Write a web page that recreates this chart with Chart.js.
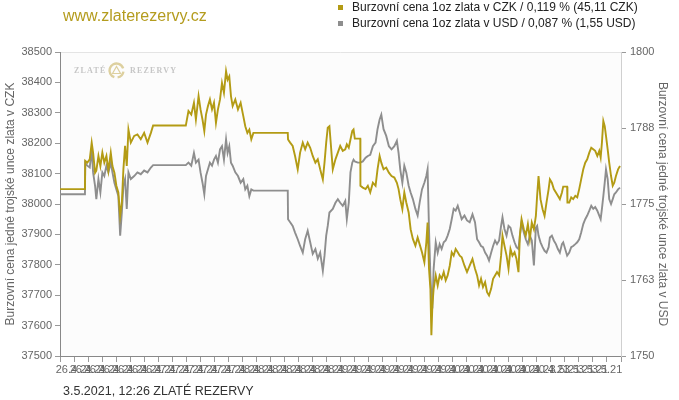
<!DOCTYPE html>
<html><head><meta charset="utf-8">
<script src="https://cdn.jsdelivr.net/npm/chart.js@4.4.1/dist/chart.umd.min.js"></script>
<style>html,body{margin:0;padding:0;background:#fff}</style>
</head><body>
<canvas id="c" width="679" height="400"></canvas>
<script>
// time position in x-axis tick units (one tick = one label slot)
const timeIdx = [0,1.78,1.80,1.95,2.12,2.26,2.36,2.50,2.59,2.74,2.88,3.02,3.16,3.31,3.45,3.62,3.74,3.88,4.02,4.16,4.29,4.41,4.52,4.64,4.76,4.88,5.05,5.29,5.52,5.76,6.00,6.24,6.48,6.64,8.97,
9.16,9.36,9.55,9.69,9.88,10.02,10.16,10.29,10.41,10.55,10.69,10.84,10.98,11.12,11.26,11.41,11.55,11.69,11.84,11.95,12.07,12.19,12.31,12.50,12.69,12.88,13.07,13.21,13.36,13.50,13.64,13.79,16.24,
16.26,16.41,16.59,16.76,16.95,17.12,17.31,17.48,17.66,17.84,18.02,18.21,18.38,18.55,18.74,18.86,18.98,19.09,19.21,19.45,19.64,19.81,19.98,20.16,20.34,20.45,20.59,20.71,20.84,20.93,21.02,21.24,21.41,
21.42,21.59,21.79,21.95,22.12,22.31,22.50,22.64,22.79,22.91,23.07,23.26,23.45,23.64,23.84,24.02,24.14,24.26,24.41,24.55,24.69,24.86,25.00,25.16,25.34,25.50,25.64,25.81,25.98,26.12,26.21,26.31,26.41,26.48,26.55,26.64,26.79,26.93,
27.07,27.21,27.36,27.50,27.64,27.79,27.93,28.07,28.21,28.36,28.50,28.64,28.84,29.02,29.21,29.41,29.59,29.74,29.88,30.02,30.16,30.31,30.45,30.59,30.74,30.88,31.02,31.16,31.31,31.45,31.55,31.69,31.84,31.98,
32.12,32.26,32.41,32.55,32.69,32.79,32.91,33.07,33.21,33.36,33.50,33.64,33.79,33.93,34.02,34.12,34.26,34.41,34.55,34.69,34.84,34.93,35.07,35.21,35.36,35.50,35.64,35.79,35.88,36.16,
36.18,36.31,36.45,36.59,36.74,36.88,37.02,37.16,37.31,37.45,37.59,37.74,37.88,38.02,38.16,38.31,38.45,38.55,38.64,38.74,38.84,38.93,39.05,39.16,39.29,39.41,39.52,39.64,39.79,39.93];

const czkPrice = [38049,38049,38142,38136,38147,38202,38169,38103,38110,38158,38125,38169,38136,38158,38110,38169,38125,38103,38060,38038,37961,38005,38114,38191,38125,38245,38202,38224,38229,38213,38234,38202,38234,38258,38258,
38306,38294,38333,38278,38355,38311,38278,38240,38294,38322,38344,38311,38333,38267,38311,38344,38398,38366,38437,38409,38420,38355,38322,38344,38311,38333,38289,38256,38234,38245,38213,38234,38234,
38212,38202,38191,38158,38114,38169,38202,38180,38202,38185,38158,38136,38147,38114,38081,38136,38202,38251,38256,38114,38147,38169,38191,38175,38180,38196,38185,38212,38240,38245,38215,38215,38215,
38060,38054,38049,38060,38038,38070,38060,38114,38158,38136,38114,38120,38103,38092,38087,38070,38049,38016,37983,38038,38005,37972,37917,37885,37863,37890,37868,37841,37808,37874,37939,37787,37721,37568,37666,37721,37765,37732,
37765,37754,37776,37749,37765,37797,37841,37830,37852,37841,37830,37825,37797,37776,37797,37819,37787,37765,37732,37754,37727,37743,37710,37699,37721,37754,37765,37776,37765,37830,37896,37863,37830,37787,
37852,37830,37841,37819,37776,37896,37950,37917,37896,37934,37885,37939,37917,37961,38027,38092,38016,37983,37961,38005,38049,38081,38070,38049,38038,38027,38016,38038,38057,38057,
38005,38005,38022,38016,38027,38022,38049,38081,38114,38136,38147,38169,38185,38180,38175,38158,38175,38153,38202,38273,38256,38224,38180,38136,38092,38060,38070,38092,38114,38125];

const usdPrice = [1776.6,1776.6,1781.8,1781.3,1781.0,1784.0,1780.2,1778.0,1775.8,1779.1,1776.9,1780.2,1779.6,1781.3,1780.2,1781.8,1780.2,1778.5,1777.4,1776.3,1769.8,1773.6,1778.0,1779.1,1774.2,1780.2,1779.1,1779.6,1780.2,1779.9,1780.5,1780.2,1781.0,1781.4,1781.4,
1781.8,1781.3,1783.4,1781.8,1782.3,1780.2,1778.5,1776.6,1779.6,1780.7,1781.8,1781.3,1782.3,1782.9,1781.8,1784.0,1784.5,1782.3,1785.6,1783.4,1784.5,1781.8,1781.3,1780.2,1779.6,1778.5,1779.1,1777.4,1778.0,1776.3,1777.4,1777.2,1777.2,
1772.5,1772.0,1771.4,1770.3,1769.2,1768.1,1767.0,1769.2,1770.6,1768.7,1766.8,1767.6,1766.0,1767.0,1764.0,1766.5,1769.8,1771.4,1773.6,1774.2,1775.2,1775.8,1775.2,1774.7,1775.5,1772.5,1775.2,1780.2,1781.8,1782.3,1782.0,1781.8,1781.8,
1781.8,1782.0,1782.6,1782.9,1783.1,1784.5,1785.1,1787.3,1788.9,1789.7,1787.3,1786.2,1784.5,1784.0,1784.5,1785.4,1783.4,1780.7,1778.5,1781.3,1780.2,1778.0,1776.9,1775.8,1774.2,1773.1,1775.2,1777.4,1778.5,1779.6,1780.7,1770.9,1763.2,1759.9,1757.8,1764.3,1768.7,1767.0,
1768.4,1767.6,1768.7,1769.0,1769.8,1770.9,1772.5,1774.2,1773.9,1774.7,1773.6,1772.5,1773.1,1772.3,1772.0,1773.3,1772.0,1769.2,1768.7,1768.1,1767.9,1767.0,1766.5,1765.7,1767.0,1768.1,1769.0,1768.4,1769.0,1771.4,1772.8,1770.9,1769.8,1771.4,
1771.1,1769.8,1768.7,1767.9,1767.6,1769.8,1772.0,1770.3,1769.2,1768.4,1769.8,1769.0,1764.9,1771.1,1771.4,1769.8,1768.7,1767.9,1767.3,1767.0,1767.9,1769.5,1769.8,1769.0,1768.4,1767.6,1767.0,1768.4,1768.7,1766.5,
1766.5,1767.0,1767.9,1768.1,1768.4,1768.7,1769.2,1770.3,1771.7,1772.5,1773.1,1773.9,1774.7,1774.2,1774.5,1773.9,1773.1,1772.5,1774.2,1776.3,1778.5,1780.7,1779.1,1775.8,1775.0,1775.8,1776.6,1776.9,1777.4,1777.7];

const xTickLabels = ['',
 '26.4.21','26.4.21','26.4.21','26.4.21','26.4.21','26.4.21','26.4.21',
 '27.4.21','27.4.21','27.4.21','27.4.21','27.4.21','27.4.21',
 '28.4.21','28.4.21','28.4.21','28.4.21','28.4.21','28.4.21','28.4.21',
 '29.4.21','29.4.21','29.4.21','29.4.21','29.4.21','29.4.21','29.4.21','29.4.21',
 '30.4.21','30.4.21','30.4.21','30.4.21','30.4.21','30.4.21','30.4.21',
 '3.5.21','3.5.21','3.5.21','3.5.21',
 ''];

const seriesNames = ['Burzovní cena 1oz zlata v CZK / 0,119 % (45,11 CZK)',
                     'Burzovní cena 1oz zlata v USD / 0,087 % (1,55 USD)'];
const axisTitleCZK = 'Burzovní cena jedné trojské unce zlata v CZK';
const axisTitleUSD = 'Burzovní cena jedné trojské unce zlata v USD';
const siteTitle = 'www.zlaterezervy.cz';
const footerText = '3.5.2021, 12:26 ZLATÉ REZERVY';

const GOLD = '#b39b14';
const GRAY = '#8e8e8e';
const FONT = '"Liberation Sans", Arial, sans-serif';

const decor = {
  id: 'decor',
  beforeDraw(chart) {
    const {ctx, chartArea: a} = chart;
    ctx.save();
    ctx.fillStyle = '#fcfcfc';
    ctx.fillRect(a.left, a.top, a.right - a.left, a.bottom - a.top);
    ctx.strokeStyle = '#e4e4e4';
    ctx.lineWidth = 1;
    ctx.beginPath();
    ctx.moveTo(a.left, a.top + 0.5); ctx.lineTo(a.right, a.top + 0.5);
    ctx.stroke();
    ctx.restore();
  },
  beforeDatasetsDraw(chart) {
    const {ctx, chartArea: a} = chart;
    ctx.save();
    ctx.fillStyle = '#c6c6c6';
    ctx.font = 'bold 8px "Liberation Serif", "DejaVu Serif", serif';
    ctx.textBaseline = 'middle';
    ctx.textAlign = 'left';
    if ('letterSpacing' in ctx) ctx.letterSpacing = '1.2px';
    ctx.fillText('ZLATÉ', a.left + 14, a.top + 19);
    ctx.fillText('REZERVY', a.left + 70, a.top + 19);
    // logo
    const cx = a.left + 56.5, cy = a.top + 18.5;
    ctx.strokeStyle = '#ddd09f';
    ctx.lineWidth = 2.4;
    ctx.beginPath(); ctx.arc(cx, cy, 7, Math.PI * 0.6, Math.PI * 1.9); ctx.stroke();
    ctx.beginPath(); ctx.arc(cx, cy, 7, Math.PI * 2.05, Math.PI * 2.45); ctx.stroke();
    ctx.lineWidth = 1.2;
    ctx.beginPath();
    ctx.moveTo(cx - 4, cy + 3); ctx.lineTo(cx, cy - 4); ctx.lineTo(cx + 4, cy + 3); ctx.closePath();
    ctx.stroke();
    ctx.restore();
  },
  afterDraw(chart) {
    const {ctx} = chart;
    ctx.save();
    ctx.textAlign = 'left';
    ctx.textBaseline = 'alphabetic';
    ctx.fillStyle = '#b49c1e';
    ctx.font = '16px ' + FONT;
    ctx.fillText(siteTitle, 63, 21);
    // legend
    ctx.font = '12px ' + FONT;
    ctx.fillStyle = GOLD;
    ctx.fillRect(338, 5, 5, 5);
    ctx.fillStyle = GRAY;
    ctx.fillRect(338, 21, 5, 5);
    ctx.fillStyle = '#222';
    ctx.textBaseline = 'middle';
    ctx.fillText(seriesNames[0], 352, 8);
    ctx.fillText(seriesNames[1], 352, 24);
    // footer
    ctx.fillStyle = '#333';
    ctx.font = '12.5px ' + FONT;
    ctx.textBaseline = 'alphabetic';
    ctx.fillText(footerText, 63, 395);
    ctx.restore();
  }
};

const czkPoints = timeIdx.map((t, i) => ({x: t, y: czkPrice[i]}));
const usdPoints = timeIdx.map((t, i) => ({x: t, y: usdPrice[i]}));

new Chart(document.getElementById('c'), {
  type: 'line',
  data: {
    datasets: [
      {label: seriesNames[0], data: czkPoints, yAxisID: 'y', borderColor: GOLD, borderWidth: 1.9, pointRadius: 0, tension: 0, fill: false},
      {label: seriesNames[1], data: usdPoints, yAxisID: 'y1', borderColor: GRAY, borderWidth: 1.9, pointRadius: 0, tension: 0, fill: false}
    ]
  },
  options: {
    responsive: false,
    animation: false,
    devicePixelRatio: 1,
    layout: {padding: {left: 0, right: 0, top: 52, bottom: 24}},
    plugins: {legend: {display: false}, tooltip: {enabled: false}},
    scales: {
      x: {
        type: 'linear', min: 0, max: 40,
        grid: {drawOnChartArea: false, drawTicks: true, tickLength: 6, color: '#999'},
        border: {color: '#888'},
        ticks: {stepSize: 1, maxTicksLimit: 100, autoSkip: false, maxRotation: 0, minRotation: 0, padding: 1,
          color: '#666', font: {size: 11, family: FONT},
          callback: (v) => xTickLabels[Math.round(v)] ?? ''},
        afterFit: s => { s.height = 20; }
      },
      y: {
        position: 'left', min: 37500, max: 38500,
        grid: {drawOnChartArea: false, tickLength: 5, color: '#999'},
        border: {color: '#888'},
        ticks: {stepSize: 100, color: '#666', padding: 3, font: {size: 11, family: FONT}, callback: v => String(v)},
        title: {display: true, text: axisTitleCZK, color: '#666', font: {size: 12, family: FONT}, padding: {top: 3, bottom: 0}},
        afterFit: s => { s.width = 60; }
      },
      y1: {
        position: 'right', min: 1750, max: 1800,
        grid: {drawOnChartArea: false, tickLength: 5, color: '#999'},
        border: {color: '#d0d0d0'},
        ticks: {stepSize: 12.5, color: '#666', padding: 4, font: {size: 11, family: FONT}, callback: v => String(Math.round(v))},
        title: {display: true, text: axisTitleUSD, color: '#666', font: {size: 12, family: FONT}, padding: {top: 9, bottom: 0}},
        afterFit: s => { s.width = 58; }
      }
    }
  },
  plugins: [decor]
});
</script>
</body></html>
